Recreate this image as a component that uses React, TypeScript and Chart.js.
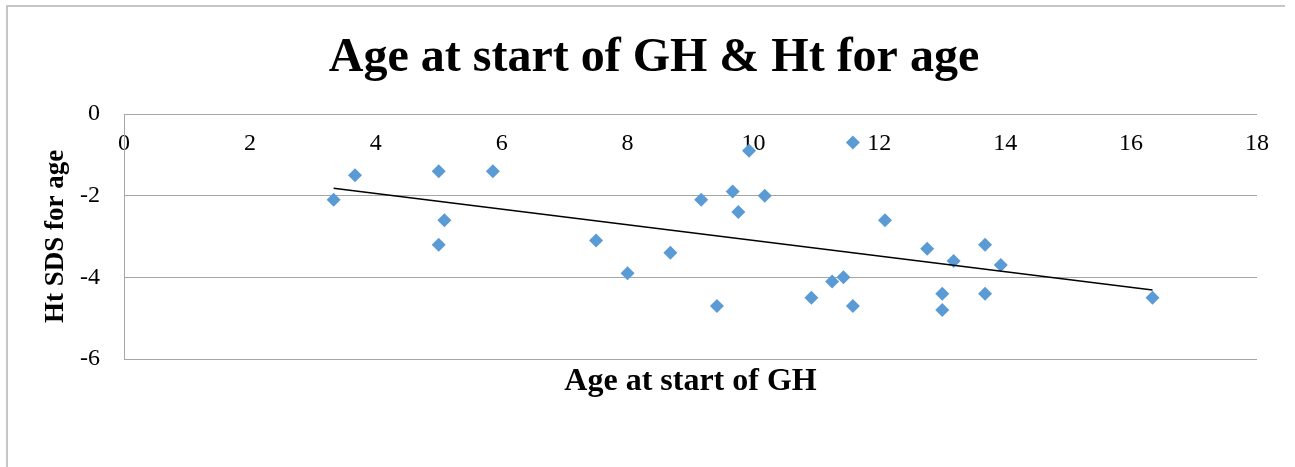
import React, { useEffect, useRef } from "react";
import { Chart, registerables } from "chart.js";

Chart.register(...registerables);

// Age at start of GH (years)
const ageAtStart = [
  3.33, 3.67, 5.0, 5.09, 5.0, 5.86, 7.5, 8.0, 8.68, 9.17, 9.42, 9.67, 9.76, 9.93,
  10.18, 10.92, 11.25, 11.43, 11.58, 11.58, 12.09, 12.76, 13.0, 13.0, 13.18, 13.68,
  13.68, 13.93, 16.34,
];
// Height SDS for age
const htSds = [
  -2.1, -1.5, -1.4, -2.6, -3.2, -1.4, -3.1, -3.9, -3.4, -2.1, -4.7, -1.9, -2.4, -0.9,
  -2.0, -4.5, -4.1, -4.0, -0.7, -4.7, -2.6, -3.3, -4.4, -4.8, -3.6, -3.2, -4.4, -3.7,
  -4.5,
];
// Linear trendline end points
const trendX = [3.33, 16.34];
const trendY = [-1.82, -4.31];

const xTicks = [0, 2, 4, 6, 8, 10, 12, 14, 16, 18];
const yTicks = [0, -2, -4, -6];

const titleText = "Age at start of GH & Ht for age";
const xTitle = "Age at start of GH";
const yTitle = "Ht SDS for age";

const SERIF = "'Liberation Serif', 'Times New Roman', serif";

const frameAndTitle = {
  id: "frameAndTitle",
  afterDraw(chart: any) {
    const ctx = chart.ctx;
    ctx.save();
    ctx.strokeStyle = "#b4b4b4";
    ctx.lineWidth = 1.5;
    ctx.beginPath();
    ctx.moveTo(7, 467);
    ctx.lineTo(7, 6);
    ctx.lineTo(1285, 6);
    ctx.stroke();

    ctx.fillStyle = "#000000";
    ctx.font = `bold 48px ${SERIF}`;
    ctx.textAlign = "center";
    ctx.textBaseline = "middle";
    ctx.fillText(titleText, 654, 59);
    ctx.restore();
  },
};

export default function App() {
  const canvasRef = useRef<HTMLCanvasElement | null>(null);

  useEffect(() => {
    if (!canvasRef.current) return;
    const points = ageAtStart.map((x, i) => ({ x, y: htSds[i] }));
    const trend = trendX.map((x, i) => ({ x, y: trendY[i] }));

    const chart = new Chart(canvasRef.current, {
      type: "scatter",
      data: {
        datasets: [
          {
            label: "Linear trend",
            data: trend,
            showLine: true,
            borderColor: "#000000",
            borderWidth: 1.5,
            pointRadius: 0,
            fill: false,
          },
          {
            label: "Ht SDS for age",
            data: points,
            pointStyle: "rectRot",
            pointRadius: 7,
            pointBackgroundColor: "#5B9BD5",
            pointBorderWidth: 0,
            borderColor: "#5B9BD5",
            backgroundColor: "#5B9BD5",
          },
        ],
      },
      options: {
        animation: false,
        responsive: true,
        maintainAspectRatio: false,
        layout: { padding: { left: 0, right: 38, top: 114, bottom: 0 } },
        plugins: {
          legend: { display: false },
          tooltip: { enabled: false },
          title: { display: false },
        },
        scales: {
          x: {
            type: "linear",
            position: { y: 0 } as any,
            min: 0,
            max: 18,
            afterBuildTicks: (s: any) => {
              s.ticks = xTicks.map((v) => ({ value: v }));
            },
            ticks: {
              color: "#000000",
              font: { family: SERIF, size: 24 },
              padding: 15.5,
              maxRotation: 0,
            },
            grid: { display: false, drawTicks: false },
            border: { display: false },
          },
          x2: {
            type: "linear",
            axis: "x",
            position: "bottom",
            min: 0,
            max: 18,
            ticks: { display: false },
            grid: { display: false, drawTicks: false },
            border: { display: false },
            title: {
              display: true,
              text: xTitle,
              color: "#000000",
              font: { family: SERIF, size: 32, weight: "bold" },
              padding: { top: 0, bottom: 65.8 },
            },
            afterFit: (s: any) => {
              s.height = 108;
            },
          },
          y: {
            type: "linear",
            position: "left",
            min: -6,
            max: 0,
            afterBuildTicks: (s: any) => {
              s.ticks = yTicks.map((v) => ({ value: v }));
            },
            ticks: {
              color: "#000000",
              font: { family: SERIF, size: 24 },
              padding: 24,
            },
            grid: { color: "#a6a6a6", lineWidth: 1, drawTicks: false },
            border: { display: true, color: "#a6a6a6", width: 1 },
            title: {
              display: true,
              text: yTitle,
              color: "#000000",
              font: { family: SERIF, size: 27, weight: "bold" },
              padding: { top: 39.8, bottom: 0 },
            },
            afterFit: (s: any) => {
              s.width = 124;
            },
          },
        },
      } as any,
      plugins: [frameAndTitle],
    });

    return () => {
      chart.destroy();
    };
  }, []);

  return (
    <div
      style={{
        position: "fixed",
        left: 0,
        top: 0,
        width: 1295,
        height: 467,
        background: "#ffffff",
      }}
    >
      <canvas ref={canvasRef} />
    </div>
  );
}
